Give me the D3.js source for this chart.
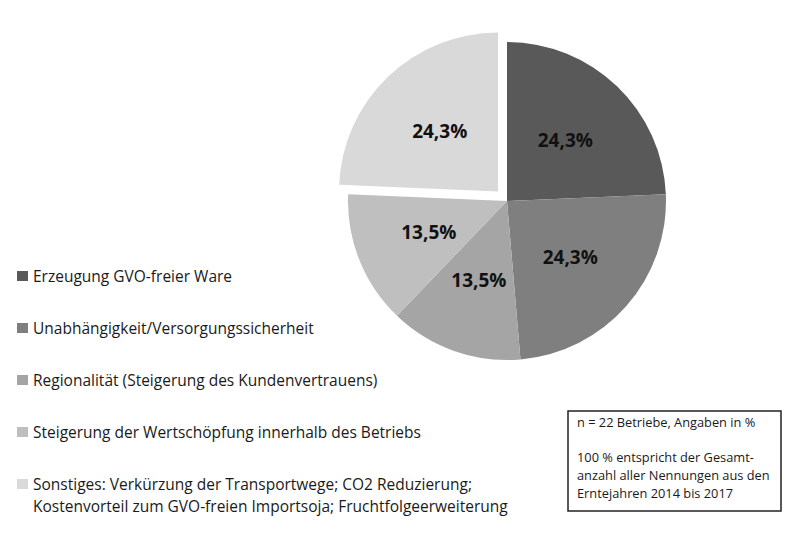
<!DOCTYPE html>
<html>
<head>
<meta charset="utf-8">
<script src="https://cdn.jsdelivr.net/npm/d3@7"></script>
<style>
  html, body { margin: 0; padding: 0; background: #fff; }
  svg { display: block; }
</style>
</head>
<body>
<svg id="chart" width="800" height="533"></svg>
<script>
// ---- data ----
const categories = [
  "Erzeugung GVO-freier Ware",
  "Unabhängigkeit/Versorgungssicherheit",
  "Regionalität (Steigerung des Kundenvertrauens)",
  "Steigerung der Wertschöpfung innerhalb des Betriebs",
  "Sonstiges: Verkürzung der Transportwege; CO2 Reduzierung;\nKostenvorteil zum GVO-freien Importsoja; Fruchtfolgeerweiterung"
];
const values = [24.3, 24.3, 13.5, 13.5, 24.3];
const explodedIndex = 4;
const noteLines = [
  "n = 22 Betriebe, Angaben in %",
  "",
  "100 % entspricht der Gesamt-",
  "anzahl aller Nennungen aus den",
  "Erntejahren 2014 bis 2017"
];

// ---- styles / layout ----
const palette = ["#595959", "#7f7f7f", "#a5a5a5", "#bfbfbf", "#d9d9d9"];
const FONT = "'Open Sans', sans-serif";
const svg = d3.select("#chart");
const cx = 507, cy = 201, R = 159;

const color = d3.scaleOrdinal().domain(d3.range(values.length)).range(palette);
const pie = d3.pie().sort(null).value(d => d).startAngle(0).endAngle(2 * Math.PI);
const arcs = pie(values);
const arc = d3.arc().innerRadius(0).outerRadius(R);
const labelArc = d3.arc().innerRadius(R * 0.53).outerRadius(R * 0.53);
const fmt = v => v.toFixed(1).replace(".", ",") + "%";

const g = svg.append("g").attr("transform", `translate(${cx},${cy})`);

const slice = g.selectAll("g.slice").data(arcs).enter().append("g")
  .attr("class", "slice")
  .attr("transform", (d, i) => {
    if (i !== explodedIndex) return null;
    const a = (d.startAngle + d.endAngle) / 2;
    const off = 13;
    return `translate(${Math.sin(a) * off},${-Math.cos(a) * off})`;
  });

slice.append("path")
  .attr("d", arc)
  .attr("fill", (d, i) => color(i));

slice.append("text")
  .attr("transform", d => `translate(${labelArc.centroid(d)})`)
  .attr("text-anchor", "middle")
  .attr("dy", "0.36em")
  .attr("font-family", FONT)
  .attr("font-weight", "bold")
  .attr("font-size", 19)
  .attr("fill", "#111")
  .text(d => fmt(d.data));

// ---- legend ----
const legendY = d3.scalePoint().domain(d3.range(categories.length)).range([276, 484]);
const legend = svg.append("g");
const item = legend.selectAll("g").data(categories).enter().append("g")
  .attr("transform", (d, i) => `translate(17,${legendY(i)})`);
item.append("rect")
  .attr("x", 0).attr("y", -5).attr("width", 11).attr("height", 10)
  .attr("fill", (d, i) => color(i));
item.append("text")
  .attr("x", 16)
  .attr("font-family", FONT)
  .attr("font-size", 15.5)
  .attr("fill", "#1a1a1a")
  .each(function(d) {
    const t = d3.select(this);
    d.split("\n").forEach((line, k) => {
      t.append("tspan").attr("x", 16).attr("y", k * 22).attr("dy", "0.36em").text(line);
    });
  });

// ---- note box ----
const box = svg.append("g").attr("transform", "translate(568,411)");
box.append("rect")
  .attr("x", 0).attr("y", 0).attr("width", 213).attr("height", 100)
  .attr("fill", "#fff").attr("stroke", "#222").attr("stroke-width", 1.5);
box.append("text")
  .attr("font-family", FONT)
  .attr("font-size", 12.8)
  .attr("fill", "#1a1a1a")
  .selectAll("tspan").data(noteLines).enter().append("tspan")
  .attr("x", 9)
  .attr("y", (d, i) => 16 + i * 17.7)
  .text(d => d);
</script>
</body>
</html>
